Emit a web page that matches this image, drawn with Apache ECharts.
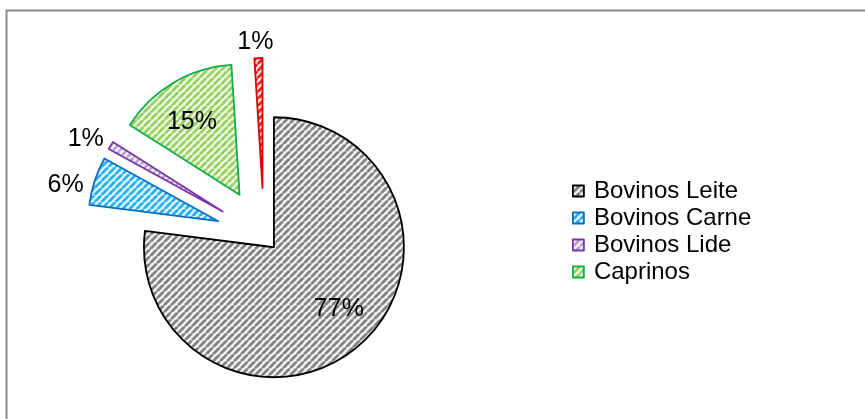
<!DOCTYPE html>
<html>
<head>
<meta charset="utf-8">
<script src="https://cdn.jsdelivr.net/npm/echarts@6/dist/echarts.min.js"></script>
<style>
  html, body { margin: 0; padding: 0; background: #ffffff; }
  #chart { width: 865px; height: 419px; }
</style>
</head>
<body>
<div id="chart"></div>
<script>
// Share of each herd category (percent)
const categories = ['Bovinos Leite', 'Bovinos Carne', 'Bovinos Lide', 'Caprinos', 'Ovinos'];
const shares = [77, 6, 1, 15, 1];
const legendNames = ['Bovinos Leite', 'Bovinos Carne', 'Bovinos Lide', 'Caprinos'];

// Styling per category
const stripeColors = ['#808080', '#1eb0ee', '#b1a0cb', '#92cf58', '#ee1c1c'];
const borderColors = ['#000000', '#0a6fc4', '#7a35a8', '#12ad4a', '#dd0000'];
const labelInside = [true, false, false, true, false];
// Small label nudges [dx, dy] per category
const labelNudge = [[20, 11], [-6, 4], [-2, -6], [-13, -14], [20, -16]];

const FONT = '"Liberation Sans", Arial, Helvetica, sans-serif';

// Upward diagonal hatch tile: coloured stripes on white
function hatch(color) {
  const s = 7;
  const c = document.createElement('canvas');
  c.width = s; c.height = s;
  const g = c.getContext('2d');
  g.fillStyle = '#ffffff';
  g.fillRect(0, 0, s, s);
  g.strokeStyle = color;
  g.lineWidth = 3;
  for (let k = -1; k <= 1; k++) {
    g.beginPath();
    g.moveTo(k * s, s);
    g.lineTo(k * s + s, 0);
    g.stroke();
  }
  return { image: c, repeat: 'repeat' };
}

const patterns = stripeColors.map(hatch);

function styleOf(i) {
  return { color: patterns[i], borderColor: borderColors[i], borderWidth: 1.8 };
}

const hidden = {
  itemStyle: { color: 'rgba(0,0,0,0)', borderWidth: 0 },
  label: { show: false },
  labelLine: { show: false }
};

function item(i, selected) {
  const st = styleOf(i);
  return {
    name: categories[i],
    value: shares[i],
    selected: selected,
    itemStyle: st,
    select: { itemStyle: st },
    label: { position: labelInside[i] ? 'inside' : 'outside' }
  };
}

const restOfLeite = shares.slice(1).reduce((a, b) => a + b, 0);

const commonSeries = {
  type: 'pie',
  center: [264, 236],
  radius: 130,
  startAngle: 90,
  clockwise: true,
  selectedMode: 'multiple',
  silent: true,
  avoidLabelOverlap: false,
  emphasis: { disabled: true },
  label: {
    formatter: '{c}%',
    color: '#000000',
    fontSize: 25,
    fontFamily: FONT
  },
  labelLine: { show: false, length: 0, length2: 0 }
};

const chart = echarts.init(document.getElementById('chart'), null, { renderer: 'canvas' });

chart.setOption({
  animation: false,
  backgroundColor: '#ffffff',
  graphic: [{
    type: 'rect',
    silent: true,
    z: -10,
    shape: { x: 6.5, y: 10.5, width: 1200, height: 1200 },
    style: { fill: 'none', stroke: '#8a8a8a', lineWidth: 2 }
  }],
  legend: {
    orient: 'vertical',
    left: 572,
    top: 178,
    padding: 0,
    itemGap: 1,
    itemWidth: 11,
    itemHeight: 11,
    selectedMode: false,
    textStyle: { fontSize: 24, lineHeight: 26, color: '#000000', fontFamily: FONT, padding: [0, 0, 0, 5] },
    data: legendNames.map(n => {
      const i = categories.indexOf(n);
      return { name: n, icon: 'rect', itemStyle: styleOf(i) };
    })
  },
  series: [
    Object.assign({}, commonSeries, {
      name: 'leite',
      selectedOffset: 15,
      labelLayout: p => p.dataIndex === 0 ? { dx: labelNudge[0][0], dy: labelNudge[0][1] } : {},
      data: [
        item(0, true),
        Object.assign({ name: '_resto', value: restOfLeite }, hidden)
      ]
    }),
    Object.assign({}, commonSeries, {
      name: 'outros',
      selectedOffset: 48,
      labelLayout: p => p.dataIndex > 0 ? { dx: labelNudge[p.dataIndex][0], dy: labelNudge[p.dataIndex][1] } : {},
      data: [Object.assign({ name: '_leite', value: shares[0] }, hidden)]
        .concat(categories.slice(1).map((_, k) => item(k + 1, true)))
    })
  ]
});
</script>
</body>
</html>
